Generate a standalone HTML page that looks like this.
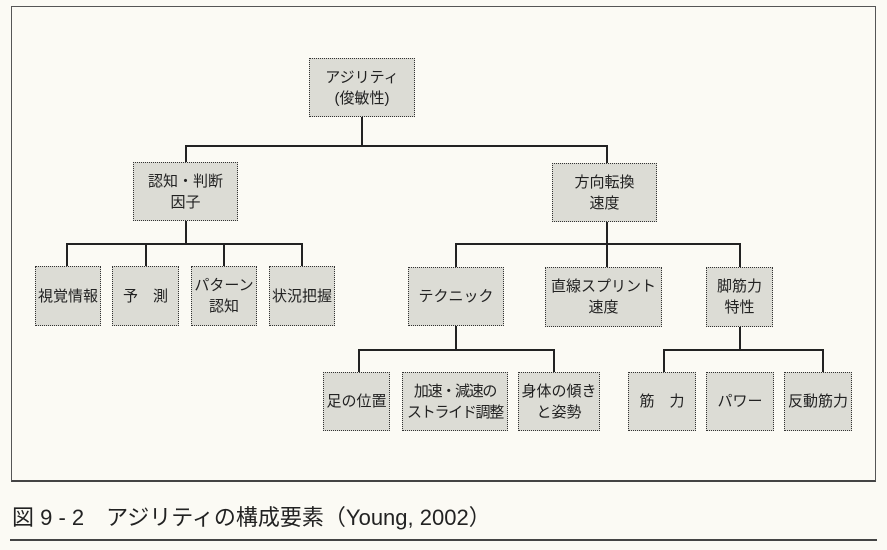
<!DOCTYPE html>
<html><head><meta charset="utf-8"><style>
body{margin:0;width:887px;height:550px;background:#fbfaf4;position:relative;overflow:hidden;font-family:"Liberation Sans","Noto Sans CJK JP",sans-serif;}
.f{position:absolute;left:11px;top:6px;width:865px;height:476px;border:1.5px solid #555;border-bottom:2px solid #444;box-sizing:border-box}
.b{position:absolute;background:#dcdcd5;border:1.5px dotted #333;box-sizing:border-box;display:flex;align-items:center;justify-content:center;text-align:center;font-size:15px;line-height:21px;color:#222;white-space:nowrap}
.h{position:absolute;height:2px;background:#222}
.v{position:absolute;width:2px;background:#222}
</style></head><body>
<div class="f"></div>
<div class="v" style="left:361px;top:117px;height:29px"></div>
<div class="h" style="left:185px;top:145px;width:423px"></div>
<div class="v" style="left:185px;top:145px;height:18px"></div>
<div class="v" style="left:606px;top:145px;height:18px"></div>
<div class="v" style="left:185px;top:221px;height:23px"></div>
<div class="h" style="left:66px;top:243px;width:237px"></div>
<div class="v" style="left:66px;top:243px;height:24px"></div>
<div class="v" style="left:145px;top:243px;height:24px"></div>
<div class="v" style="left:223px;top:243px;height:24px"></div>
<div class="v" style="left:301px;top:243px;height:24px"></div>
<div class="v" style="left:606px;top:221px;height:23px"></div>
<div class="h" style="left:455px;top:243px;width:286px"></div>
<div class="v" style="left:455px;top:243px;height:24px"></div>
<div class="v" style="left:606px;top:243px;height:24px"></div>
<div class="v" style="left:739px;top:243px;height:24px"></div>
<div class="v" style="left:455px;top:326px;height:24px"></div>
<div class="h" style="left:358px;top:349px;width:196px"></div>
<div class="v" style="left:358px;top:349px;height:24px"></div>
<div class="v" style="left:553px;top:349px;height:24px"></div>
<div class="v" style="left:739px;top:326px;height:24px"></div>
<div class="h" style="left:663px;top:349px;width:160px"></div>
<div class="v" style="left:663px;top:349px;height:24px"></div>
<div class="v" style="left:822px;top:349px;height:24px"></div>
<div class="b" style="left:309px;top:58px;width:106px;height:59px">アジリティ<br>(俊敏性)</div>
<div class="b" style="left:133px;top:162px;width:105px;height:59px">認知・判断<br>因子</div>
<div class="b" style="left:552px;top:163px;width:105px;height:59px">方向転換<br>速度</div>
<div class="b" style="left:35px;top:266px;width:66px;height:60px">視覚情報</div>
<div class="b" style="left:112px;top:266px;width:67px;height:60px">予　測</div>
<div class="b" style="left:191px;top:266px;width:66px;height:60px">パターン<br>認知</div>
<div class="b" style="left:269px;top:266px;width:66px;height:60px">状況把握</div>
<div class="b" style="left:408px;top:267px;width:96px;height:59px">テクニック</div>
<div class="b" style="left:545px;top:267px;width:117px;height:60px">直線スプリント<br>速度</div>
<div class="b" style="left:706px;top:267px;width:67px;height:60px">脚筋力<br>特性</div>
<div class="b" style="left:323px;top:372px;width:67px;height:59px">足の位置</div>
<div class="b" style="left:402px;top:372px;width:106px;height:59px;letter-spacing:-1.3px">加速・減速の<br>ストライド調整</div>
<div class="b" style="left:518px;top:372px;width:82px;height:59px">身体の傾き<br>と姿勢</div>
<div class="b" style="left:628px;top:372px;width:68px;height:59px">筋　力</div>
<div class="b" style="left:706px;top:372px;width:68px;height:59px">パワー</div>
<div class="b" style="left:784px;top:372px;width:68px;height:59px">反動筋力</div>
<div style="position:absolute;left:12px;top:500px;font-size:22px;color:#222;white-space:nowrap">図 9 - 2　アジリティの構成要素（Young, 2002）</div>
<div class="h" style="left:10px;top:539px;width:867px;height:1.5px;background:#444"></div>
</body></html>
